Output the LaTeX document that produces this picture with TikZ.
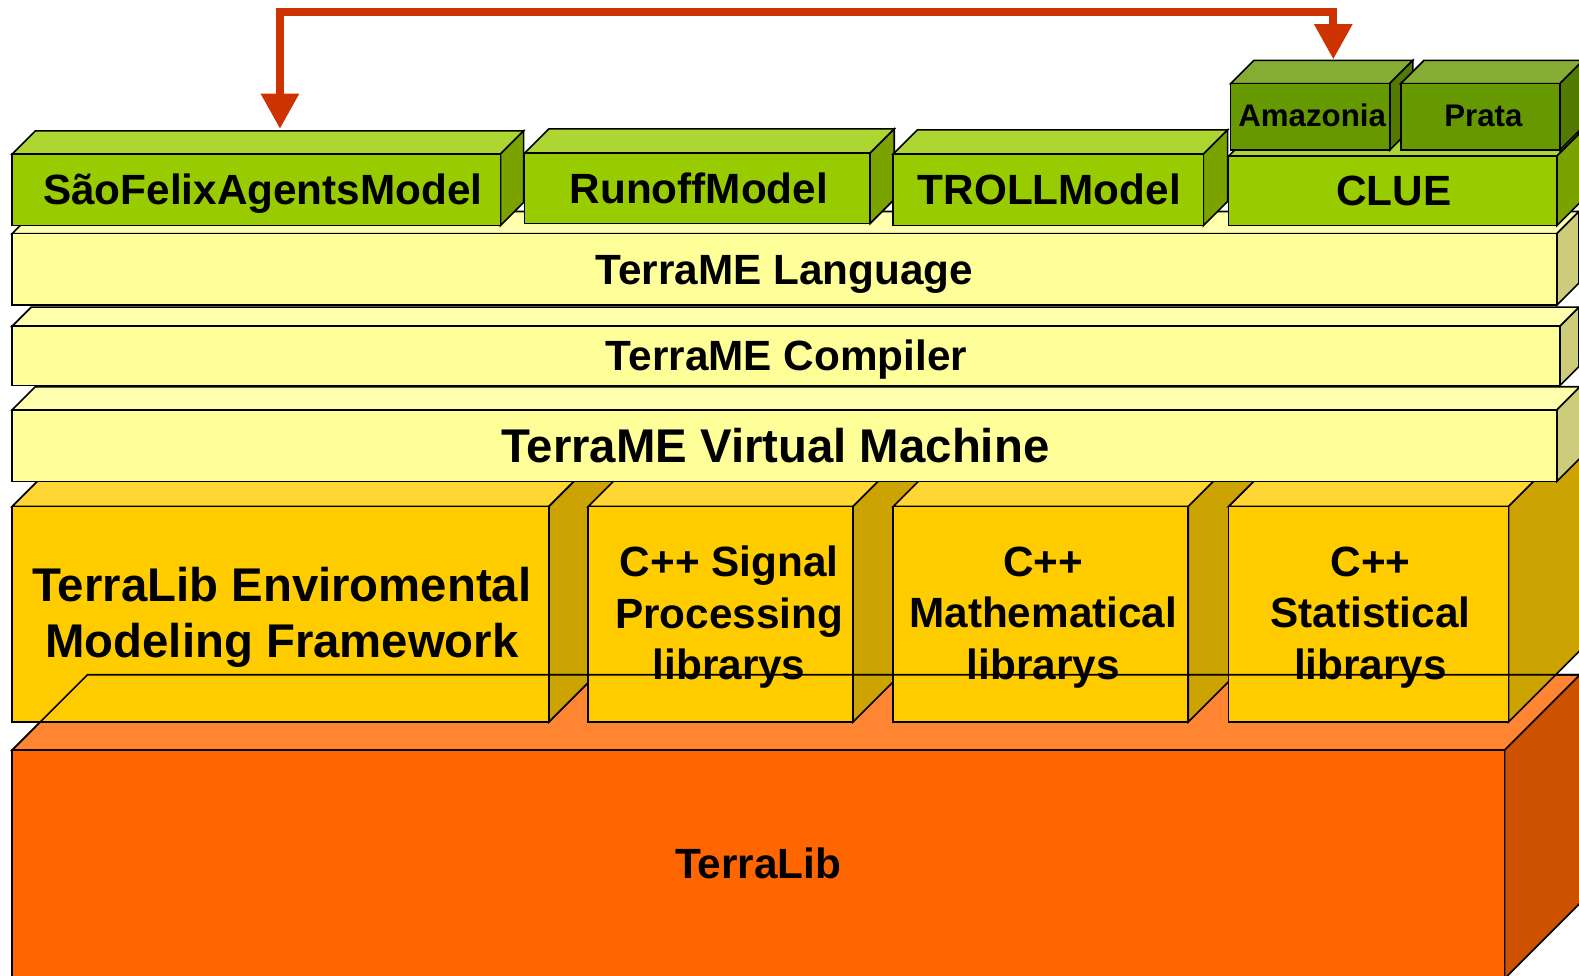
\documentclass[tikz,border=0pt]{standalone}
\usepackage{fontspec}
\setmainfont{Liberation Sans}
\usetikzlibrary{arrows.meta}
\definecolor{grF}{HTML}{99CC00}
\definecolor{grT}{HTML}{ADD633}
\definecolor{grS}{HTML}{7AA300}
\definecolor{dgF}{HTML}{669900}
\definecolor{dgT}{HTML}{85AD33}
\definecolor{dgS}{HTML}{527A00}
\definecolor{ylF}{HTML}{FFFF99}
\definecolor{ylT}{HTML}{FFFFAD}
\definecolor{ylS}{HTML}{CCCC7A}
\definecolor{goF}{HTML}{FFCC00}
\definecolor{goT}{HTML}{FFD633}
\definecolor{goS}{HTML}{CCA300}
\definecolor{orF}{HTML}{FF6600}
\definecolor{orT}{HTML}{FF8533}
\definecolor{orS}{HTML}{CC5200}
\definecolor{arr}{HTML}{CC3300}
% x1,y1,x2,y2,depth,front,top,side
\newcommand\mybox[8]{%
  \filldraw[fill=#7] (#1,#2) -- (#1+#5,#2-#5) -- (#3+#5,#2-#5) -- (#3,#2) -- cycle;
  \filldraw[fill=#8] (#3,#2) -- (#3+#5,#2-#5) -- (#3+#5,#4-#5) -- (#3,#4) -- cycle;
  \filldraw[fill=#6] (#1,#2) rectangle (#3,#4);
}
\begin{document}
\begin{tikzpicture}[x=1pt,y=-1pt,line width=1.6pt,
  lbl/.style={font=\bfseries\fontsize{42}{51}\selectfont,align=center,inner sep=0pt},
  big/.style={font=\bfseries\fontsize{47}{56}\selectfont,align=center,inner sep=0pt},
  small/.style={font=\bfseries\fontsize{31}{36}\selectfont,align=center,inner sep=0pt},
  link/.style={draw=arr,line width=8pt,{Triangle[length=35pt,width=36pt]}-{Triangle[length=35pt,width=36pt]}}]
\useasboundingbox (0,0) rectangle (1568,969);
\clip (0,0) rectangle (1568,969);
% TerraLib base
\mybox{12}{745}{1494}{972}{75}{orF}{orT}{orS}
\node[lbl] (tl) at (753,857) {TerraLib};
% gold boxes
\mybox{12}{503}{545}{717}{80}{goF}{goT}{goS}
\mybox{584}{503}{847}{717}{80}{goF}{goT}{goS}
\mybox{887}{503}{1180}{717}{80}{goF}{goT}{goS}
\mybox{1220}{503}{1498}{717}{80}{goF}{goT}{goS}
\node[big] (env) at (280,613) {TerraLib Enviromental\\Modeling Framework};
\node[lbl] (sig) at (724,613) {C++ Signal\\Processing\\librarys};
\node[lbl] (mat) at (1036,613) {C++\\Mathematical\\librarys};
\node[lbl] (sta) at (1361,613) {C++\\Statistical\\librarys};
% TerraLib top face outline seen through
\draw (12,745) -- (87,670) -- (1569,670);
% TerraME layers
\mybox{12}{407}{1546}{478}{23}{ylF}{ylT}{ylS}
\node[big] (vm) at (770,442) {TerraME Virtual Machine};
\mybox{12}{324}{1549}{383}{19}{ylF}{ylT}{ylS}
\node[lbl] (comp) at (781,357) {TerraME Compiler};
\mybox{12}{232}{1546}{303}{22}{ylF}{ylT}{ylS}
\node[lbl] (lang) at (779,273) {TerraME Language};
% models
\mybox{12}{153}{497}{224}{23}{grF}{grT}{grS}
\node[lbl] (sfa) at (261,192) {SãoFelixAgentsModel};
\mybox{521}{152}{864}{222}{24}{grF}{grT}{grS}
\node[lbl] (run) at (694,187) {RunoffModel};
\mybox{887}{153}{1195}{224}{24}{grF}{grT}{grS}
\node[lbl] (troll) at (1042,188) {TROLLModel};
\mybox{1220}{155}{1546}{224}{23}{grF}{grT}{grS}
\node[lbl] (clue) at (1384,190) {CLUE};
\mybox{1222}{83}{1380}{149}{23}{dgF}{dgT}{dgS}
\node[small] (ama) at (1303,115) {Amazonia};
\mybox{1391}{83}{1549}{149}{23}{dgF}{dgT}{dgS}
\node[small] (pra) at (1473,115) {Prata};
% arrow
\coordinate (a1) at (278,128);
\coordinate (a2) at (1324,59);
\coordinate (top) at (800,12);
\draw[link] (a1) |- (top) -| (a2);
\end{tikzpicture}
\end{document}
